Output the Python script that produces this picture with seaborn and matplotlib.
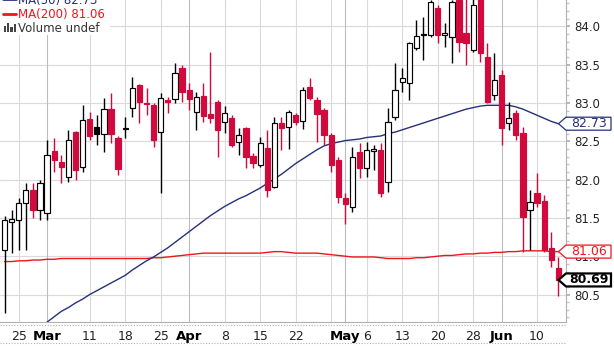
import numpy as np
import pandas as pd
import matplotlib
matplotlib.use("Agg")
import matplotlib.pyplot as plt
import seaborn as sns
from matplotlib.patches import Polygon, Rectangle
from matplotlib.lines import Line2D
from matplotlib.ticker import MultipleLocator

# ---------------- data (daily candles, Feb 22 .. Jun 13) ----------------
opens = [81.08, 81.45, 81.47, 81.69, 81.86, 81.60, 81.56, 82.37, 82.23, 82.03,
         82.62, 82.16, 82.79, 82.69, 82.60, 82.92, 82.54, 82.66, 82.93, 83.23,
         83.00, 82.97, 82.62, 83.04, 83.05, 83.46, 83.17, 82.88, 83.09, 82.86,
         83.01, 82.75, 82.80, 82.49, 82.67, 82.31, 82.19, 82.41, 81.90, 82.74,
         82.69, 82.84, 82.77, 83.21, 83.04, 82.91, 82.58, 82.26, 81.76, 81.64,
         82.36, 82.15, 82.37, 82.39, 81.97, 82.82, 83.27, 83.26, 83.72, 83.89,
         83.89, 84.24, 83.89, 83.86, 84.34, 83.91, 83.69, 84.38, 83.60, 83.10,
         83.37, 82.74, 82.87, 82.61, 81.60, 81.83, 81.72, 81.11, 80.85]
highs = [81.52, 81.60, 81.76, 81.95, 81.95, 82.00, 82.52, 82.54, 82.32, 82.65,
         82.64, 82.97, 82.88, 82.84, 83.07, 83.13, 82.57, 82.82, 83.34, 83.25,
         83.20, 83.00, 83.13, 83.08, 83.52, 83.50, 83.26, 83.14, 83.26, 83.67,
         83.04, 82.96, 82.84, 82.67, 82.69, 82.35, 82.56, 82.65, 82.82, 82.82,
         82.91, 82.87, 83.21, 83.33, 83.08, 82.93, 82.61, 82.30, 81.83, 82.43,
         82.48, 82.49, 82.45, 82.48, 82.93, 83.52, 83.46, 83.80, 84.08, 84.12,
         84.34, 84.28, 84.04, 84.34, 84.40, 84.36, 84.36, 84.42, 83.78, 83.65,
         83.43, 83.01, 82.91, 82.69, 81.86, 82.09, 81.80, 81.32, 80.99]
lows = [80.26, 81.04, 81.08, 81.08, 81.50, 81.47, 81.47, 82.10, 81.95, 81.97,
        81.99, 82.10, 82.52, 82.45, 82.36, 82.48, 82.06, 82.54, 82.82, 82.74,
        82.84, 82.43, 81.83, 82.87, 83.00, 83.01, 82.91, 82.65, 82.75, 82.74,
        82.30, 82.61, 82.43, 82.32, 82.15, 82.15, 82.16, 81.77, 81.89, 82.39,
        82.40, 82.71, 82.66, 83.04, 82.49, 82.45, 82.10, 81.70, 81.42, 81.58,
        82.02, 82.03, 82.13, 81.77, 81.84, 82.78, 83.14, 83.04, 83.69, 83.56,
        83.86, 83.78, 83.73, 83.52, 83.67, 83.50, 83.67, 83.54, 83.00, 83.04,
        82.45, 82.65, 82.52, 81.05, 81.08, 81.64, 81.05, 80.86, 80.48]
closes = [81.47, 81.48, 81.69, 81.86, 81.60, 81.95, 82.32, 82.26, 82.16, 82.52,
          82.13, 82.78, 82.57, 82.60, 82.92, 82.60, 82.14, 82.68, 83.20, 83.01,
          82.99, 82.52, 83.07, 83.01, 83.39, 83.14, 83.05, 83.08, 82.83, 82.80,
          82.65, 82.87, 82.45, 82.58, 82.30, 82.22, 82.48, 81.86, 82.74, 82.67,
          82.88, 82.75, 83.17, 83.07, 82.86, 82.58, 82.19, 81.77, 81.68, 82.30,
          82.15, 82.39, 82.40, 81.83, 82.75, 83.17, 83.33, 83.78, 83.87, 83.90,
          84.32, 83.89, 83.91, 84.32, 83.80, 83.78, 84.28, 83.65, 83.01, 83.30,
          82.67, 82.80, 82.58, 81.51, 81.71, 81.69, 81.08, 80.95, 80.69]

ma50_start = 4
ma50 = [79.98, 80.06, 80.14, 80.21, 80.28, 80.33, 80.39, 80.44, 80.50, 80.55,
        80.60, 80.65, 80.70, 80.75, 80.82, 80.88, 80.94, 80.99, 81.05, 81.11,
        81.18, 81.25, 81.32, 81.39, 81.46, 81.53, 81.59, 81.65, 81.70, 81.75,
        81.79, 81.84, 81.89, 81.95, 82.01, 82.07, 82.14, 82.21, 82.27, 82.33,
        82.39, 82.44, 82.47, 82.49, 82.51, 82.52, 82.53, 82.55, 82.56, 82.57,
        82.60, 82.62, 82.65, 82.68, 82.71, 82.74, 82.77, 82.80, 82.83, 82.86,
        82.89, 82.92, 82.94, 82.96, 82.97, 82.97, 82.97, 82.97, 82.95, 82.92,
        82.88, 82.84, 82.80, 82.76, 82.73]
ma200 = [80.93, 80.93, 80.94, 80.94, 80.95, 80.95, 80.96, 80.96, 80.97, 80.97,
         80.97, 80.97, 80.97, 80.97, 80.97, 80.97, 80.97, 80.97, 80.97, 80.97,
         80.97, 80.98, 80.98, 80.99, 81.00, 81.01, 81.02, 81.03, 81.04, 81.04,
         81.04, 81.04, 81.04, 81.04, 81.04, 81.04, 81.04, 81.05, 81.06, 81.06,
         81.05, 81.04, 81.04, 81.04, 81.04, 81.03, 81.02, 81.01, 81.00, 80.99,
         80.99, 80.99, 80.99, 80.98, 80.97, 80.97, 80.97, 80.97, 80.98, 80.98,
         80.99, 81.00, 81.01, 81.01, 81.02, 81.03, 81.03, 81.04, 81.04, 81.05,
         81.05, 81.06, 81.06, 81.07, 81.07, 81.07, 81.07, 81.06, 81.06]

tick_pos = [2, 6, 12, 17, 22, 26, 31, 36, 41, 46, 48, 51, 56, 61, 66, 70, 75]
tick_labels = ["25", "Mar", "11", "18", "25", "Apr", "8", "15", "22", "",
               "May", "6", "13", "20", "28", "Jun", "10"]
month_labels = ["Mar", "Apr", "May", "Jun"]
y_ticks = [80.5, 81.0, 81.5, 82.0, 82.5, 83.0, 83.5, 84.0]
ma50_last = 82.73
ma200_last = 81.06
close_last = 80.69

# ---------------- style ----------------
sns.set_theme(style="white")
plt.rcParams["font.family"] = ["DejaVu Sans"]

RED = "#d2093c"
MA200_RED = "#f0141e"
NAVY = "#26307a"
GRID = "#dadada"
MONTH_GRID = "#bdbdbd"

W, H = 614, 346
fig = plt.figure(figsize=(W / 100, H / 100), dpi=100)
fig.patch.set_facecolor("white")
ax = fig.add_axes([0, 1 - 322 / H, 566 / W, 322 / H])
ax.set_facecolor("white")

n = len(closes)
idx = np.arange(n)
o = np.array(opens); c = np.array(closes); hi = np.array(highs); lo = np.array(lows)
prev = np.concatenate([[-np.inf], c[:-1]])
up = c >= prev
filled = c < o
edge = np.where(up, "black", RED)
face = np.where(filled, edge, "white")

# grid
for yv in y_ticks:
    ax.axhline(yv, color=GRID, lw=0.8, zorder=0)
for p, lab in zip(tick_pos, tick_labels):
    ax.axvline(p, color=MONTH_GRID if lab in month_labels else GRID, lw=0.8, zorder=0)

# moving averages via seaborn
df50 = pd.DataFrame({"i": idx[ma50_start:ma50_start + len(ma50)], "v": ma50})
df200 = pd.DataFrame({"i": idx[:len(ma200)], "v": ma200})
sns.lineplot(data=df200, x="i", y="v", ax=ax, color=MA200_RED, lw=1.0, zorder=1)
sns.lineplot(data=df50, x="i", y="v", ax=ax, color=NAVY, lw=1.0, zorder=1)

# candles
ax.vlines(idx, lo, hi, colors=edge, lw=1.0, zorder=2)
body_h = np.maximum(np.abs(c - o), 0.012)
ax.bar(idx, body_h, bottom=np.minimum(o, c), width=0.74, color=face,
       edgecolor=edge, linewidth=0.85, zorder=3)

ax.set_xlim(-0.634, 79.07)
ax.set_ylim(80.141, 84.345)
ax.set_xlabel("")
ax.set_ylabel("")

# axes styling
for s in ["left", "top"]:
    ax.spines[s].set_visible(False)
for s in ["right", "bottom"]:
    ax.spines[s].set_color("#b0b0b0")
    ax.spines[s].set_linewidth(0.8)

ax.yaxis.tick_right()
ax.set_yticks(y_ticks)
ax.set_yticklabels([f"{v:.1f}" for v in y_ticks])
ax.yaxis.set_minor_locator(MultipleLocator(0.1))
ax.tick_params(axis="y", which="major", length=3, color="#b0b0b0", pad=3,
               labelsize=8.5, labelcolor="#222222")
ax.tick_params(axis="y", which="minor", length=2, color="#c8c8c8", right=True)

ax.set_xticks(tick_pos)
ax.set_xticklabels(tick_labels)
ax.tick_params(axis="x", which="major", length=0, pad=6, labelsize=9,
               labelcolor="#222222")
for t in ax.get_xticklabels():
    if t.get_text() in month_labels:
        t.set_fontweight("bold")
        t.set_fontsize(9.5)
        t.set_color("black")

# dotted lines under the axis
for py in (325, 343):
    fig.add_artist(Line2D([0, 566 / W], [1 - py / H] * 2, color="#b0b0b0",
                          lw=0.8, ls=(0, (1, 1.5)), transform=fig.transFigure))

# legend box (top-left)
fig.add_artist(Rectangle((0, 1 - 35 / H), 110 / W, 35 / H, transform=fig.transFigure,
                         facecolor="white", edgecolor="none", zorder=1))
fig.add_artist(Line2D([3 / W, 16 / W], [1 + 1 / H] * 2, color=NAVY, lw=2,
                      transform=fig.transFigure, zorder=2))
fig.text(18.5 / W, 1 - 4 / H, f"MA(50) {ma50_last:.2f}", color=NAVY, fontsize=8.5,
         va="baseline", ha="left", zorder=3)
fig.add_artist(Line2D([3 / W, 16 / W], [1 - 13.5 / H] * 2, color=MA200_RED, lw=2,
                      transform=fig.transFigure, zorder=2))
fig.text(18.5 / W, 1 - 18 / H, f"MA(200) {ma200_last:.2f}", color=MA200_RED,
         fontsize=8.5, va="baseline", ha="left", zorder=3)
for k, bh in enumerate([6, 9, 5, 8]):
    fig.add_artist(Rectangle(((4 + 3.2 * k) / W, 1 - 32 / H), 2.2 / W, bh / H,
                             transform=fig.transFigure, facecolor="#444444",
                             edgecolor="none", zorder=2))
fig.text(18.5 / W, 1 - 32 / H, "Volume undef", color="#333333", fontsize=8.5,
         va="baseline", ha="left", zorder=3)

# price tags on the right
inv = fig.transFigure.inverted()
def tag(value, color, bold=False, lw=0.9):
    ypx = ax.transData.transform((0, value))[1]
    yf = inv.transform((0, ypx))[1]
    hh = 6.5 / H
    x_tip, x_l, x_r = 558.5 / W, 566 / W, 611 / W
    poly = Polygon([(x_tip, yf), (x_l, yf + hh), (x_r, yf + hh), (x_r, yf - hh),
                    (x_l, yf - hh)], closed=True, transform=fig.transFigure,
                   facecolor="white", edgecolor=color, lw=lw, zorder=4)
    fig.add_artist(poly)
    fig.text((x_l + x_r) / 2 + 0.5 / W, yf, f"{value:.2f}", color=color, fontsize=9,
             fontweight="bold" if bold else "normal", ha="center", va="center",
             zorder=5)

tag(ma50_last, NAVY)
tag(ma200_last, MA200_RED)
tag(close_last, "black", bold=True, lw=1.6)

fig.savefig("out.png", dpi=100)
